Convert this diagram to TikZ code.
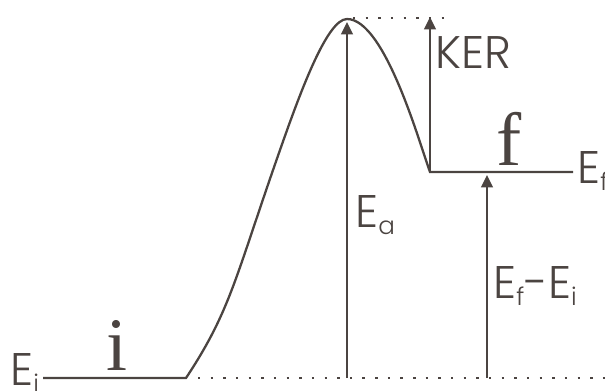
\documentclass[tikz,border=0pt]{standalone}
\usepackage{fontspec}
\setmainfont{Poppins Light}
\newfontfamily\statefont{Liberation Serif}
\usetikzlibrary{arrows.meta}
\definecolor{ink}{HTML}{4B4441}
\newcommand\lowsub[1]{\raisebox{-4.5pt}{\fontsize{14}{14}\selectfont #1}}
\tikzset{
  level/.style={ink, line width=1.3pt},
  dots/.style={ink, line width=1.4pt, dash pattern=on 1.4pt off 5.8pt},
  energy/.style={ink, line width=1.3pt, -{Triangle[length=7pt,width=6.5pt]}},
  lbl/.style={ink, inner sep=0pt, anchor=base west, font=\fontsize{26}{26}\selectfont},
  state/.style={ink, inner sep=0pt, anchor=base, font=\statefont\fontsize{43}{43}\selectfont}
}
\begin{document}
\begin{tikzpicture}[x=0.02cm, y=-0.02cm]
        \useasboundingbox (0,0) rectangle (605,390);
        % Punkte
        \coordinate (istart) at (43,378);
        \coordinate (iend) at (186,378);
        \coordinate (slope) at (280,150);
        \coordinate (peak) at (347,19);
        \coordinate (fstart) at (430,172);
        \coordinate (fend) at (573,172);
        \coordinate (base) at (347,378);
        \coordinate (eatop) at (347,22);
        \coordinate (kertop) at (430,17);
        \coordinate (dbase) at (487,378);
        \coordinate (dtop) at (487,175);

        % Niveaus und Kurve
        \draw[level] (istart) -- (iend)
              .. controls (231,310) and (235,278) .. (slope)
              .. controls (300,93) and (327,19) .. (peak)
              .. controls (385,19) and (420,145) .. (fstart) -- (fend);

        % Hilfslinien
        \draw[dots] (198,378) -- (605,378);
        \draw[dots] (353,18) -- (445,18);

        % Pfeile
        \draw[energy] (base) -- (eatop);
        \draw[energy] (fstart) -- (kertop);
        \draw[energy] (dbase) -- (dtop);

        % Beschriftung
        \node[state] (i) at (117,370) {i};
        \node[state] (f) at (509,165) {f};
        \node[lbl] (ei) at (10,385) {E\lowsub{i}};
        \node[lbl] (ef) at (577,183) {E\lowsub{f}};
        \node[lbl] (ea) at (355,227) {E\lowsub{a}};
        \node[lbl] (ker) at (435,68) {KER};
        \node[lbl] (efi) at (493,298) {E\lowsub{f}-E\lowsub{i}};
    \end{tikzpicture}
\end{document}
